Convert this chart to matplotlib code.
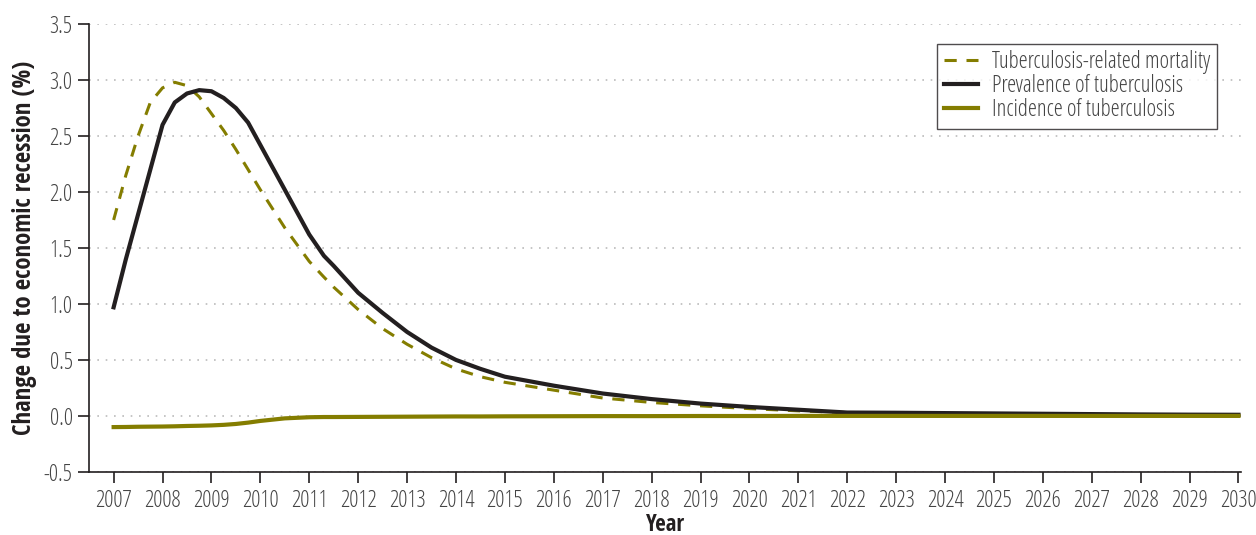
import numpy as np
import matplotlib
matplotlib.use('Agg')
import matplotlib.pyplot as plt
from matplotlib import font_manager

# light condensed face for ticks and legend, bold condensed for axis titles
light_file = None
for f in font_manager.fontManager.ttflist:
    if (f.name == 'Open Sans' and f.stretch == 'condensed' and f.weight == 300
            and f.style == 'normal'):
        light_file = f.fname
if light_file:
    light = font_manager.FontProperties(fname=light_file, size=16.5)
else:
    light = font_manager.FontProperties(family='PT Sans Narrow', size=16.5)
bold = font_manager.FontProperties(family='Open Sans Condensed', weight='bold', size=17.8)

# data
years = [2007, 2007.25, 2007.5, 2007.75, 2008, 2008.25, 2008.5, 2008.75, 2009, 2009.25,
         2009.5, 2009.75, 2010, 2010.5, 2011, 2011.3, 2011.5, 2012, 2012.5, 2013, 2013.5,
         2014, 2014.5, 2015, 2016, 2017, 2018, 2019, 2020, 2021, 2022, 2023, 2024,
         2025, 2026, 2027, 2028, 2029, 2030]
mortality = [1.75, 2.15, 2.5, 2.8, 2.93, 2.98, 2.95, 2.85, 2.7, 2.55,
             2.38, 2.2, 2.02, 1.68, 1.38, 1.24, 1.15, 0.95, 0.78, 0.64, 0.52,
             0.42, 0.35, 0.30, 0.23, 0.16, 0.12, 0.09, 0.065, 0.045, 0.03, 0.025, 0.02,
             0.018, 0.015, 0.012, 0.01, 0.008, 0.007]
prevalence = [0.97, 1.4, 1.8, 2.2, 2.6, 2.8, 2.88, 2.91, 2.9, 2.84,
              2.75, 2.62, 2.42, 2.02, 1.62, 1.43, 1.34, 1.1, 0.92, 0.75, 0.61,
              0.50, 0.42, 0.35, 0.27, 0.2, 0.15, 0.11, 0.08, 0.055, 0.03, 0.028, 0.025,
              0.022, 0.019, 0.016, 0.013, 0.011, 0.01]
incidence = [-0.1, -0.099, -0.097, -0.096, -0.095, -0.093, -0.09, -0.088, -0.085, -0.08,
             -0.072, -0.06, -0.045, -0.022, -0.012, -0.01, -0.01, -0.009, -0.008, -0.007, -0.006,
             -0.005, -0.005, -0.004, -0.003, -0.002, -0.002, -0.001, -0.001, 0.0, 0.0, 0.0, 0.0,
             0.0, 0.0, 0.0, 0.0, 0.0, 0.0]
ytick_vals = [-0.5, 0.0, 0.5, 1.0, 1.5, 2.0, 2.5, 3.0, 3.5]

olive = '#847d00'
dark = '#231f20'

fig = plt.figure(figsize=(12.56, 5.35), dpi=100)
ax = fig.add_axes([0.071, 0.118, 0.917, 0.837])

ax.plot(years, mortality, color=olive, lw=2.2, ls=(0, (4, 3.2)), label='Tuberculosis-related mortality')
ax.plot(years, prevalence, color=dark, lw=3, label='Prevalence of tuberculosis')
ax.plot(years, incidence, color=olive, lw=3, label='Incidence of tuberculosis')

ax.set_xlim(2006.5, 2030.05)
ax.set_ylim(-0.5, 3.5)
ax.set_xticks(range(2007, 2031))
ax.set_xticklabels([str(y) for y in range(2007, 2031)], fontproperties=light)
ax.set_yticks(ytick_vals)
ax.set_yticklabels(['%.1f' % v for v in ytick_vals], fontproperties=light)
ax.yaxis.grid(True, ls=(0, (1, 4)), color='#bbbbbb', lw=1.2)
ax.set_axisbelow(True)

for s in ['top', 'right']:
    ax.spines[s].set_visible(False)
for s in ['left', 'bottom']:
    ax.spines[s].set_color(dark)
    ax.spines[s].set_linewidth(1.2)
ax.tick_params(direction='out', length=8, width=1.2, color=dark,
               labelcolor='#444444', pad=4)

year_prop = bold.copy()
year_prop.set_size(16.5)
ax.set_xlabel('Year', fontproperties=year_prop, color=dark, labelpad=0)
ax.set_ylabel('Change due to economic recession (%)', fontproperties=bold,
              color=dark, labelpad=5)

leg_prop = light.copy()
leg_prop.set_size(16.5)
leg = ax.legend(loc='upper right', bbox_to_anchor=(0.989, 0.982), prop=leg_prop,
                frameon=True, fancybox=False, edgecolor=dark, handlelength=1.5,
                handletextpad=0.6, labelspacing=0.0, borderpad=0.3, labelcolor='#444444')
leg.get_frame().set_linewidth(1.0)

fig.savefig('out.png', dpi=100)
